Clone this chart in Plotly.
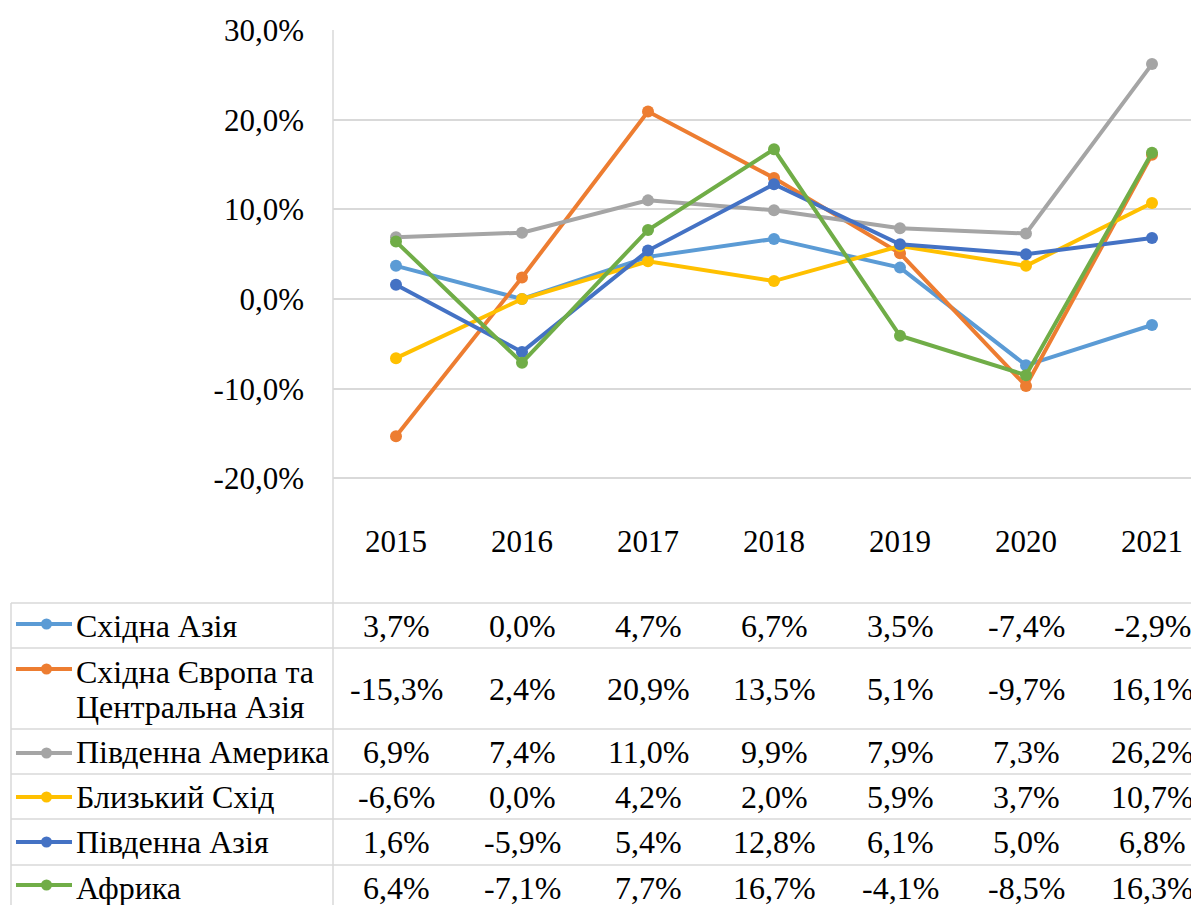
import plotly.graph_objects as go

years = ["2015", "2016", "2017", "2018", "2019", "2020", "2021"]
series_names = [
    "Східна Азія",
    "Східна Європа та<br>Центральна Азія",
    "Південна Америка",
    "Близький Схід",
    "Південна Азія",
    "Африка",
]
east_asia = [3.7, 0.0, 4.7, 6.7, 3.5, -7.4, -2.9]
east_europe_central_asia = [-15.3, 2.4, 20.9, 13.5, 5.1, -9.7, 16.1]
south_america = [6.9, 7.4, 11.0, 9.9, 7.9, 7.3, 26.2]
middle_east = [-6.6, 0.0, 4.2, 2.0, 5.9, 3.7, 10.7]
south_asia = [1.6, -5.9, 5.4, 12.8, 6.1, 5.0, 6.8]
africa = [6.4, -7.1, 7.7, 16.7, -4.1, -8.5, 16.3]
all_values = [east_asia, east_europe_central_asia, south_america, middle_east, south_asia, africa]
colors = ["#5B9BD5", "#ED7D31", "#A5A5A5", "#FFC000", "#4472C4", "#70AD47"]
ytick_vals = [-20, -10, 0, 10, 20, 30]
ytick_text = ["-20,0%", "-10,0%", "0,0%", "10,0%", "20,0%", "30,0%"]

OFF = 8  # page body margin
SCR_W, SCR_H = 1199, 905
W, H = SCR_W - OFF, SCR_H - OFF
# target screen pixel positions
L_S, T_S, B_S = 333, 30, 603
FONT = "Liberation Serif"
FS_AX = 31
FS_TB = 32
GRID = "#D9D9D9"
TXT = "#000000"

L = L_S - OFF
T = T_S - OFF
B = B_S - OFF


def px_x(sx):
    return (sx - OFF - L) / (W - L)


def px_y(sy):
    return (B - (sy - OFF)) / (B - T)


x_idx = list(range(len(years)))
fig = go.Figure()
for name, vals, col in zip(series_names, all_values, colors):
    fig.add_trace(go.Scatter(
        x=x_idx, y=vals, mode="lines+markers", name=name.replace("<br>", " "),
        line=dict(color=col, width=4),
        marker=dict(color=col, size=12),
        showlegend=False,
    ))

ppu = (299 - T_S) / 30.0
ymin = -(B_S - 299) / ppu
x_right = -0.5 + (SCR_W - L_S) / 126.0

shapes = []
annotations = []

# vertical axis / table divider line
shapes.append(dict(type="line", xref="paper", yref="paper", x0=0, x1=0,
                   y0=1, y1=px_y(915), line=dict(color=GRID, width=1.5)))
# table borders
row_lines = [603, 648, 729, 774, 819, 865]
for ry in row_lines:
    shapes.append(dict(type="line", xref="paper", yref="paper", x0=px_x(11), x1=1,
                       y0=px_y(ry), y1=px_y(ry), line=dict(color=GRID, width=1.5)))
shapes.append(dict(type="line", xref="paper", yref="paper", x0=px_x(11), x1=px_x(11),
                   y0=px_y(603), y1=px_y(915), line=dict(color=GRID, width=1.5)))

# year labels
for i, yr in enumerate(years):
    annotations.append(dict(x=i, y=px_y(541), xref="x", yref="paper", text=yr,
                            showarrow=False, font=dict(family=FONT, size=FS_AX, color=TXT),
                            xanchor="center", yanchor="middle"))

row_centers = [626, 689, 752, 797, 842, 888]
key_y = [624, 669, 753, 797, 842, 885]
for r, (name, vals, col) in enumerate(zip(series_names, all_values, colors)):
    # legend key
    shapes.append(dict(type="line", xref="paper", yref="paper", x0=px_x(16), x1=px_x(72),
                       y0=px_y(key_y[r]), y1=px_y(key_y[r]), line=dict(color=col, width=4)))
    shapes.append(dict(type="circle", xref="paper", yref="paper", x0=px_x(41), x1=px_x(52),
                       y0=px_y(key_y[r] + 5.5), y1=px_y(key_y[r] - 5.5),
                       fillcolor=col, line=dict(color=col, width=0)))
    parts = name.split("<br>")
    if len(parts) == 1:
        ys = [row_centers[r]]
    else:
        ys = [672, 707]
    for part, yy in zip(parts, ys):
        annotations.append(dict(x=px_x(74), y=px_y(yy), xref="paper", yref="paper",
                                text=part, showarrow=False, align="left",
                                font=dict(family=FONT, size=FS_TB, color=TXT),
                                xanchor="left", yanchor="middle"))
    for i, v in enumerate(vals):
        txt = f"{v:.1f}%".replace(".", ",")
        annotations.append(dict(x=i, y=px_y(row_centers[r]), xref="x", yref="paper",
                                text=txt, showarrow=False,
                                font=dict(family=FONT, size=FS_TB, color=TXT),
                                xanchor="center", yanchor="middle"))

fig.update_layout(
    width=W, height=H, autosize=False,
    margin=dict(l=L, r=0, t=T, b=H - B, pad=0),
    paper_bgcolor="white", plot_bgcolor="white",
    shapes=shapes, annotations=annotations,
    xaxis=dict(range=[-0.5, x_right], showgrid=False, zeroline=False,
               showticklabels=False, showline=False, ticks=""),
    yaxis=dict(range=[ymin, 30], tickvals=ytick_vals, ticktext=ytick_text,
               showgrid=True, gridcolor=GRID, gridwidth=1.5, zeroline=False,
               showline=False, ticks="", ticklabelstandoff=28,
               tickfont=dict(family=FONT, size=FS_AX, color=TXT)),
)

fig.write_html("out.html")
